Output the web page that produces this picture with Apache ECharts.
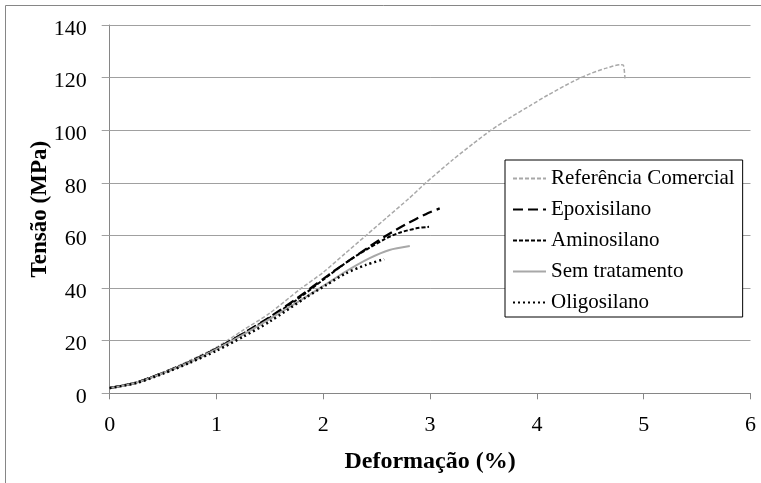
<!DOCTYPE html>
<html>
<head>
<meta charset="utf-8">
<script src="https://cdn.jsdelivr.net/npm/echarts@6/dist/echarts.min.js"></script>
<style>html,body{margin:0;padding:0;background:#fff}#c{width:761px;height:483px}</style>
</head>
<body>
<div id="c"></div>
<script>
const seriesNames = ['Referência Comercial', 'Epoxisilano', 'Aminosilano', 'Sem tratamento', 'Oligosilano'];
const xTicks = [0, 1, 2, 3, 4, 5, 6];
const yTicks = [0, 20, 40, 60, 80, 100, 120, 140];
const refComercial = [[0,2],[0.25,4.2],[0.5,8],[0.75,12.5],[1,17.5],[1.25,24],[1.5,30.5],[1.78,39.5],[2,46],[2.2,53],[2.4,60],[2.6,67],[2.8,74],[2.96,80],[3.21,88.7],[3.4,94.8],[3.57,100],[3.75,104.8],[3.93,109.2],[4.1,113.3],[4.35,118.8],[4.5,121.5],[4.65,123.6],[4.785,124.9],[4.81,124.7],[4.825,119.7]];
const epoxisilano = [[0,2],[0.25,4.1],[0.5,7.8],[0.75,12],[1,17],[1.25,22.8],[1.5,29],[1.75,36],[2,43.5],[2.09,46.2],[2.25,50.7],[2.43,55.7],[2.6,60.2],[2.77,64.2],[2.96,68.1],[3.09,70.3]];
const aminosilano = [[0,2],[0.25,4.1],[0.5,7.8],[0.75,12],[1,17],[1.25,22.7],[1.5,28.8],[1.75,35.5],[2,43.2],[2.15,47.8],[2.31,52.3],[2.57,58.5],[2.71,61],[2.87,62.7],[2.99,63.3]];
const semTratamento = [[0,2],[0.25,4],[0.5,7.7],[0.75,11.8],[1,16.8],[1.25,22.3],[1.5,28.3],[1.75,34.5],[2,40.8],[2.21,46.3],[2.43,51.3],[2.62,54.5],[2.81,56]];
const oligosilano = [[0,2],[0.25,3.9],[0.5,7.5],[0.75,11.6],[1,16.2],[1.25,21.5],[1.5,27.3],[1.84,36.5],[2.03,41.2],[2.21,45.6],[2.4,48.8],[2.57,51]];

const serif = 'Liberation Serif';
const chart = echarts.init(document.getElementById('c'), null, {renderer: 'canvas'});
function mk(name, data, color, type, width) {
  return {
    name: name, type: 'line', data: data, showSymbol: false, symbol: 'none',
    smooth: 0.25, animation: false,
    lineStyle: {color: color, type: type, width: width, cap: 'butt'},
    itemStyle: {color: color}
  };
}
chart.setOption({
  animation: false,
  backgroundColor: '#fff',
  grid: {left: 109.7, right: 10.5, top: 25, bottom: 89.7},
  graphic: [
    {type: 'line', shape: {x1: 5.5, y1: 5.5, x2: 761, y2: 5.5}, style: {stroke: '#868686', lineWidth: 1}},
    {type: 'line', shape: {x1: 5.5, y1: 5.5, x2: 5.5, y2: 483}, style: {stroke: '#868686', lineWidth: 1}}
  ],
  xAxis: {
    type: 'value', min: xTicks[0], max: xTicks[xTicks.length-1], interval: 1,
    name: 'Deformação (%)', nameLocation: 'middle', nameGap: 56, nameMoveOverlap: false,
    nameTextStyle: {fontFamily: serif, fontWeight: 'bold', fontSize: 24, color: '#000'},
    axisLine: {show: true, lineStyle: {color: '#868686', width: 1}},
    axisTick: {show: true, length: 6, lineStyle: {color: '#868686'}},
    axisLabel: {fontFamily: serif, fontSize: 22, color: '#000', margin: 21},
    splitLine: {show: false}
  },
  yAxis: {
    type: 'value', min: yTicks[0], max: yTicks[yTicks.length-1], interval: 20,
    name: 'Tensão (MPa)', nameLocation: 'middle', nameGap: 58, nameMoveOverlap: false,
    nameTextStyle: {fontFamily: serif, fontWeight: 'bold', fontSize: 23, color: '#000'},
    axisLine: {show: true, lineStyle: {color: '#868686', width: 1}},
    axisTick: {show: true, length: 8, lineStyle: {color: '#a0a0a0'}},
    axisLabel: {fontFamily: serif, fontSize: 22, color: '#000', margin: 23, verticalAlign: 'top', lineHeight: 8},
    splitLine: {show: true, lineStyle: {color: '#a0a0a0', width: 1}}
  },
  legend: {
    orient: 'vertical', left: 505, top: 160,
    data: seriesNames,
    itemWidth: 33, itemHeight: 14, itemGap: 10,
    padding: [8, 8, 4, 7],
    borderColor: '#000', borderWidth: 1, backgroundColor: '#fff',
    itemStyle: {opacity: 0},
    textStyle: {fontFamily: serif, fontSize: 21, color: '#000', lineHeight: 20}
  },
  series: [
    mk(seriesNames[0], refComercial, '#a8a8a8', [4, 2], 1.5),
    mk(seriesNames[1], epoxisilano, '#000', [10, 5], 2.25),
    mk(seriesNames[2], aminosilano, '#000', [4, 2], 2),
    mk(seriesNames[3], semTratamento, '#a8a8a8', 'solid', 2),
    mk(seriesNames[4], oligosilano, '#000', [2, 3], 2.5)
  ]
});
</script>
</body>
</html>
